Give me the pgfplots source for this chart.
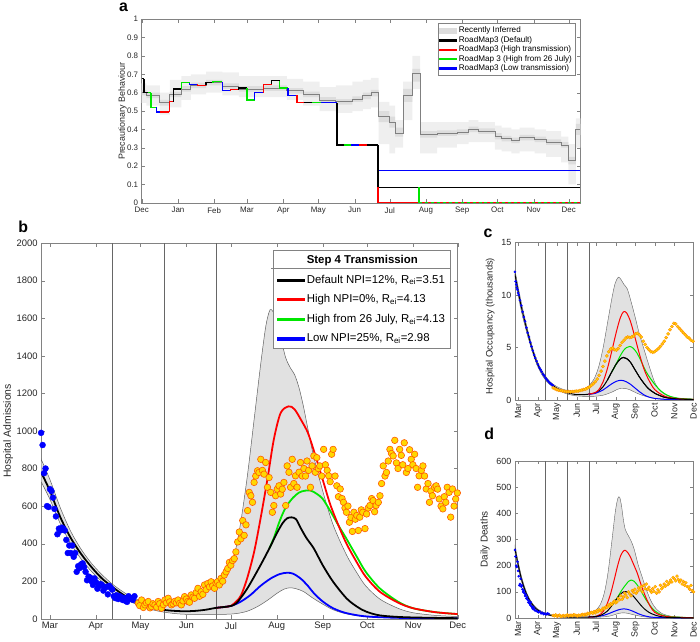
\documentclass[border=0pt]{standalone}
\usepackage{fontspec}
\setmainfont{Liberation Sans}
\setsansfont{Liberation Sans}
\usepackage{pgfplots}
\usepackage{pgfplotstable}
\pgfplotsset{compat=1.18}
\usepgfplotslibrary{fillbetween}

\definecolor{ydot}{RGB}{255,215,0}
\definecolor{odot}{RGB}{255,90,0}
\definecolor{odot2}{RGB}{255,140,0}
\definecolor{bandb}{RGB}{225,225,225}
\definecolor{bandout}{RGB}{239,239,239}
\definecolor{bandin}{RGB}{221,221,221}
\definecolor{axgray}{RGB}{130,130,130}
\definecolor{mgreen}{RGB}{0,230,0}
\definecolor{mred}{RGB}{255,0,0}

\pgfplotsset{
  panel/.style={scale only axis, anchor=south west,
    axis line style={axgray}, tick style={axgray}, tick align=inside,
    major tick length=3.5pt,
    tick label style={font=\fontsize{9}{10}\selectfont, text=black!85},
    /pgf/number format/assume math mode=true,
    /pgf/number format/1000 sep={},
    label style={font=\fontsize{10}{12}\selectfont, text=black!85}},
  orangedots/.style n args={3}{only marks, mark=*, mark size=#1,
    mark options={fill=ydot, draw=#3, line width=#2}},
  legline/.style n args={3}{legend image code/.code={\fill[#1] (0pt,-#2) rectangle (#3,#2);}},
}

% panel a: inferred precautionary behaviour (days from 1 Dec 2020)
\pgfplotstableread{
x mid il ih ol oh
0 .600 .585 .615 .545 .650
4 .585 .570 .600 .530 .640
15.5 .545 .530 .560 .480 .600
24 .590 .575 .605 .520 .670
34 .620 .605 .635 .560 .690
42 .640 .625 .655 .590 .700
55 .655 .640 .670 .600 .715
69 .635 .620 .650 .585 .710
83 .620 .605 .635 .575 .690
104 .625 .610 .640 .575 .690
124 .610 .595 .625 .560 .675
138 .590 .575 .605 .530 .660
152 .560 .545 .575 .500 .630
166 .550 .535 .565 .490 .640
180 .565 .550 .580 .500 .660
189 .585 .565 .600 .510 .670
196 .600 .580 .615 .520 .680
202.6 .470 .440 .500 .320 .550
211.7 .440 .410 .470 .270 .530
216.7 .380 .360 .410 .300 .450
223.5 .585 .550 .620 .450 .660
231.4 .705 .660 .730 .620 .800
237.9 .370 .355 .390 .270 .440
252.6 .380 .365 .395 .300 .440
269.5 .385 .370 .400 .320 .440
279.4 .400 .385 .415 .330 .450
287.8 .390 .375 .405 .330 .440
301.9 .360 .345 .380 .290 .420
307.6 .350 .335 .365 .280 .410
316 .340 .325 .355 .270 .400
323.1 .355 .340 .370 .280 .410
335.8 .345 .330 .360 .270 .400
345.7 .330 .315 .345 .250 .390
358.4 .315 .300 .330 .220 .360
364.6 .230 .210 .250 .100 .320
371.1 .400 .370 .430 .300 .460
375 .400 .370 .430 .300 .460
}\tabA

\newcommand{\seg}[5]{\addplot[#1, line width=1.2pt, forget plot] coordinates {(#2,#3) (#2,#4) (#5,#4)};}

\begin{document}
\begin{tikzpicture}
\path (0pt,0pt) rectangle (700pt,643pt);

% ---------------- a ----------------
\begin{axis}[panel, at={(140pt,441.3pt)}, width=442pt, height=185pt,
  xmin=0, xmax=375, ymin=0, ymax=1,
  xtick={0,31,62,90,121,151,182,212,243,274,304,335,365},
  xticklabels={Dec,Jan,Feb,Mar,Apr,May,Jun,Jul,Aug,Sep,Oct,Nov,Dec},
  xticklabel style={yshift=-1pt},
  ytick={0,0.1,...,1.01},
  tick label style={font=\fontsize{8}{9}\selectfont},
  ylabel={Precautionary Behaviour},
  ylabel style={at={(axis description cs:-0.0437,0.5)}, anchor=center, font=\fontsize{9}{10}\selectfont},
  legend style={at={(0.989,0.977)}, anchor=north east, font=\fontsize{8.2}{9}\selectfont,
    draw=axgray, row sep=-2pt, inner sep=1.5pt},
  legend cell align=left]
\addplot[name path=aoh, const plot, draw=none, forget plot] table[x=x,y=oh]{\tabA};
\addplot[name path=aol, const plot, draw=none, forget plot] table[x=x,y=ol]{\tabA};
\addplot[bandout, forget plot] fill between[of=aoh and aol];
\addplot[name path=aih, const plot, draw=none, forget plot] table[x=x,y=ih]{\tabA};
\addplot[name path=ail, const plot, draw=none, forget plot] table[x=x,y=il]{\tabA};
\addplot[bandin, forget plot] fill between[of=aih and ail];
\addplot[const plot, gray, line width=0.8pt, forget plot] table[x=x,y=mid]{\tabA};
\seg{black}{0}{.675}{.675}{2}
\seg{black}{2}{.675}{.600}{5}
\seg{mgreen}{5}{.600}{.600}{8}
\seg{mgreen}{8}{.600}{.520}{13}
\seg{blue}{13}{.520}{.495}{15.5}
\seg{mred}{15.5}{.495}{.495}{23.5}
\seg{mred}{23.5}{.495}{.550}{27}
\seg{black}{27}{.550}{.620}{34}
\seg{mgreen}{34}{.620}{.655}{41}
\seg{blue}{41}{.655}{.645}{48}
\seg{mred}{48}{.645}{.640}{55}
\seg{black}{55}{.640}{.655}{61}
\seg{mgreen}{61}{.655}{.660}{69}
\seg{blue}{69}{.660}{.610}{76}
\seg{mred}{76}{.610}{.615}{83}
\seg{black}{83}{.615}{.625}{90}
\seg{mgreen}{90}{.625}{.560}{96.5}
\seg{blue}{96.5}{.560}{.600}{104}
\seg{mred}{104}{.600}{.645}{111}
\seg{black}{111}{.645}{.665}{118}
\seg{mgreen}{118}{.665}{.625}{125}
\seg{blue}{125}{.625}{.585}{132.7}
\seg{mred}{132.7}{.585}{.545}{139}
\seg{black}{139}{.545}{.545}{146}
\seg{mgreen}{146}{.545}{.545}{153}
\seg{blue}{153}{.545}{.545}{167}
\seg{black}{167}{.545}{.315}{173}
\seg{mgreen}{173}{.315}{.315}{179}
\seg{blue}{179}{.315}{.315}{186}
\seg{mred}{186}{.315}{.315}{193}
\seg{black}{193}{.315}{.315}{202}
\seg{blue}{202}{.175}{.175}{375}
\seg{black}{202}{.315}{.085}{375}
\seg{mred}{202}{.085}{0}{375}
\addplot[mgreen, line width=1.2pt, forget plot] coordinates {(237,.085) (237,0)};
\addplot[mgreen, line width=1.2pt, dash pattern=on 3pt off 3pt, forget plot] coordinates {(237,0) (375,0)};
\addlegendimage{area legend, fill=bandin, draw=bandin}
\addlegendentry{Recently Inferred}
\addlegendimage{legline={black}{0.7pt}{17pt}}
\addlegendentry{RoadMap3 (Default)}
\addlegendimage{legline={mred}{0.7pt}{17pt}}
\addlegendentry{RoadMap3 (High transmission)}
\addlegendimage{legline={mgreen}{0.7pt}{17pt}}
\addlegendentry{RoadMap 3 (High from 26 July)}
\addlegendimage{legline={blue}{0.7pt}{17pt}}
\addlegendentry{RoadMap3 (Low transmission)}
\end{axis}

% ---------------- b ----------------
\begin{axis}[panel, at={(38.7pt,22.3pt)}, width=419.6pt, height=378.4pt,
  xmin=-6, xmax=275, ymin=0, ymax=2000,
  xtick={0,31,61,92,122,153,184,214,245,275},
  xticklabels={Mar,Apr,May,Jun,Jul,Aug,Sep,Oct,Nov,Dec},
  ytick={0,200,...,2000},
  tick label style={font=\fontsize{9.5}{11}\selectfont},
  ylabel={Hospital Admissions},
  ylabel style={at={(axis description cs:-0.0791,0.5)}, anchor=center, font=\fontsize{10.5}{12}\selectfont},
  legend style={at={(0.982,0.9815)}, anchor=north east, font=\fontsize{11.5}{13}\selectfont,
    draw=axgray, fill=white, row sep=6pt, inner sep=3pt},
  legend cell align=left]
\addplot[name path=bu, draw=none, smooth, forget plot] coordinates {
(-6,850) (0,740) (7,590) (14,465) (21,370) (28,295) (35,235) (42,185) (49,145) (56,112)
(63,90) (70,78) (77,72) (84,75) (91,88) (98,110) (105,145) (112,195) (118,245) (122,290)
(125,360) (128.8,520) (133.3,770) (137.7,1061) (142.2,1360) (145.5,1554) (147.8,1633)
(149.3,1646) (152.2,1607) (155.6,1500) (159,1390) (162.3,1334) (165,1300) (168,1230)
(171,1130) (174,1010) (178,860) (184,680) (191,500) (200,340) (207,245) (213,175)
(222.5,105) (235,55) (245,32) (260,18) (275,12)};
\addplot[name path=bl, draw=none, smooth, forget plot] coordinates {
(-6,730) (0,635) (7,505) (14,400) (21,318) (28,252) (35,198) (42,152) (49,115) (56,85)
(63,62) (70,46) (77,35) (84,28) (91,24) (105,22) (119,24) (126,28) (133,40) (140,65)
(147,100) (153,135) (158,158) (162,165) (166,160) (171,145) (177,112) (184,78) (191,48)
(200,26) (213,11) (235,4) (275,1)};
\addplot[fill=bandb, draw=gray!75!black, line width=0.5pt, forget plot] fill between[of=bu and bl];
\addplot[gray!80!black, line width=0.6pt, forget plot] coordinates {(42,0) (42,2000)};
\addplot[gray!80!black, line width=0.6pt, forget plot] coordinates {(77,0) (77,2000)};
\addplot[gray!80!black, line width=0.6pt, forget plot] coordinates {(112,0) (112,2000)};
\addplot[only marks, mark=*, mark size=3pt, color=blue, forget plot] coordinates {
(-6,990) (-5,925) (-4,775) (-3,800) (-2,600) (-1,595) (0,690) (1,680) (2,645) (3,585)
(4,545) (5,450) (6,480) (7,470) (8,485) (9,480) (10,470) (11,420) (12,350) (13,390)
(14,350) (15,390) (16,330) (17,350) (18,250) (19,280) (20,270) (21,290) (22,295) (23,275)
(24,250) (25,205) (26,225) (27,220) (28,200) (29,180) (30,215) (31,195) (32,160) (33,175)
(34,185) (35,180) (36,150) (37,165) (38,170) (39,130) (40,175) (41,165) (42,155) (43,120)
(44,110) (45,125) (46,105) (47,120) (48,115) (49,100) (50,110) (51,95) (52,90) (53,120)
(54,105) (55,110) (56,100) (57,120)};
\addplot[orangedots={3.3pt}{0.6pt}{odot}, forget plot] coordinates {
(59.6,83) (60.5,70) (61.8,100) (63,60) (64,74) (65,85) (66.3,92) (67.5,58) (68.5,65)
(69.5,80) (70.8,74) (72,62) (73,92) (74,80) (75.2,56) (76.5,75) (77.5,100) (78.5,85)
(79.7,109) (80.8,90) (81.9,74) (83,80) (84,92) (85.2,85) (86.4,100) (87.5,82) (88.6,74)
(89.7,95) (90.8,118) (92,105) (93,92) (94.1,88) (95.3,127) (96.4,115) (97.5,109) (98.6,140)
(99.8,162) (100.9,120) (102,144) (103.1,130) (104.2,180) (105.3,155) (106.5,188) (107.6,170)
(108.7,197) (109.8,175) (111,162) (112,190) (113,197) (114.2,180) (115.4,215) (116.5,200)
(117.6,233) (118.8,250) (119.9,268) (121,300) (122,285) (123.2,310) (124.3,320) (125.4,356)
(126.6,409) (127.7,462) (128.8,426) (130,523) (131,444) (132.2,500) (133.3,576) (134.4,673)
(135.5,655) (136.6,620) (137.7,726) (138.8,760) (140,788) (141,779) (142.2,849) (143.3,790)
(144.4,770) (145.5,832) (146.7,700) (147.8,752) (148.9,673) (150,567) (151,603) (152.2,655)
(153.3,690) (154.5,708) (155.6,664) (156.7,690) (157.8,726) (159,603) (160,814) (161.2,780)
(162.3,700) (163.4,849) (164.5,720) (165.6,761) (166.7,700) (168,780) (169,832) (170.2,760)
(171.3,800) (172.4,760) (173.4,840) (174.5,790) (175.7,700) (176.8,814) (178,867) (179,780)
(180,858) (181,800) (182,814) (183.3,760) (184.6,902) (185.8,820) (187,790) (188,761)
(189,730) (190,876) (191,902) (192.3,760) (193.5,708) (194.6,650) (195.8,691) (197,640)
(198,620) (199,590) (200,567) (201,600) (202,514) (203,540) (204,465) (205,567) (206,530)
(207,550) (208,470) (209,541) (210,580) (211,567) (212.5,480) (213.6,558) (214.7,590)
(215.8,603) (217,640) (218,629) (219,570) (220,603) (221.5,620) (222.6,655) (223.7,720)
(224.8,814) (226,760) (227,779) (228.2,840) (229.3,902) (230.4,880) (231.5,867) (232.6,950)
(233.7,830) (234.8,800) (235.9,902) (237,870) (238,820) (239,937) (240.4,779) (241.5,800)
(242.6,900) (243.7,849) (244.8,820) (246,876) (247,800) (248,700) (249,761) (250.5,790)
(251.6,814) (252.7,760) (253.8,691) (255,720) (256,620) (257,680) (258,655) (259.4,700)
(260.5,708) (261.5,690) (262.6,638) (263.8,600) (265,585) (266,650) (267,620) (268,700)
(269.2,673) (270.3,541) (271.5,691) (272.6,600) (273.7,638) (274.8,670)};
\addplot[blue, line width=1.8pt, smooth, forget plot] coordinates {
(112,58) (119,64) (122,68) (128,88) (135,125) (142,175) (149,215) (155,238) (160,245)
(164,240) (169,215) (174,175) (178,136) (184,92) (191,56) (200,30) (214,12) (240,4) (275,2)};
\addplot[mgreen, line width=1.8pt, smooth, forget plot] coordinates {
(148,375) (151,430) (154,500) (157,560) (160,605) (164,645) (168,672) (172,682) (176,682)
(180,665) (184,638) (189,575) (194.6,497) (200,426) (207,330) (213,250) (222.5,162)
(235,90) (245,56) (260,35) (275,25)};
\addplot[mred, line width=1.8pt, smooth, forget plot] coordinates {
(112,58) (119,64) (122,68) (126,95) (129,127) (133,215) (137.7,356) (142,532) (146.7,744)
(151,955) (155.6,1096) (161,1131) (165,1115) (170,1050) (174,990) (178,895) (184,740)
(189,610) (194.6,497) (200,400) (207,300) (213,224) (222.5,144) (235,85) (245,56) (260,35) (275,25)};
\addplot[black, line width=1.8pt, smooth, forget plot] coordinates {
(-6,780) (0,680) (7,540) (14,430) (21,345) (28,275) (35,215) (42,170) (49,130) (56,98)
(63,75) (70,58) (77,47) (84,42) (91,40) (98,42) (105,48) (112,58) (119,64) (122,68)
(126,85) (133,160) (142,285) (148,375) (153,455) (157,510) (160,535) (163,540) (166,530)
(169,485) (173,430) (178,374) (184,285) (191,197) (200,109) (207,65) (213,39) (222.5,18)
(240,8) (275,3)};
\addlegendimage{empty legend}
\addlegendentry{\textbf{Step 4 Transmission}}
\addlegendimage{legline={black}{1.1pt}{28pt}}
\addlegendentry{Default NPI=12\%, R\textsubscript{ei}=3.51}
\addlegendimage{legline={mred}{1.1pt}{28pt}}
\addlegendentry{High NPI=0\%, R\textsubscript{ei}=4.13}
\addlegendimage{legline={mgreen}{1.1pt}{28pt}}
\addlegendentry{High from 26 July, R\textsubscript{ei}=4.13}
\addlegendimage{legline={blue}{1.1pt}{28pt}}
\addlegendentry{Low NPI=25\%, R\textsubscript{ei}=2.98}
\end{axis}
\draw[axgray, line width=0.5pt] (270.7pt,375.3pt) -- (450.7pt,375.3pt);

% ---------------- c ----------------
\begin{axis}[panel, at={(516pt,242.7pt)}, width=180pt, height=158.6pt,
  xmin=-5, xmax=275, ymin=0, ymax=15,
  xtick={0,31,61,92,122,153,184,214,245,275},
  xticklabels={Mar,Apr,May,Jun,Jul,Aug,Sep,Oct,Nov,Dec},
  xticklabel style={rotate=90, anchor=east},
  ytick={0,5,10,15},
  tick label style={font=\fontsize{9}{10}\selectfont},
  ylabel={Hospital Occupancy (thousands)},
  ylabel style={at={(axis description cs:-0.139,0.47)}, anchor=center, font=\fontsize{9.5}{11}\selectfont}]
\addplot[name path=cu, draw=none, smooth] coordinates {
(-5,12.4) (0,10.8) (5,9.3) (10,7.95) (15,6.7) (20,5.55) (25,4.55) (30,3.7) (35,3.05) (40,2.55)
(45,2.1) (50,1.75) (55,1.5) (60,1.3) (70,1.02) (80,0.88) (90,0.85) (100,0.95) (110,1.3)
(119,2.0) (126,3.1) (133,4.9) (140,7.3) (147,9.7) (152,11.1) (157,11.7) (161,11.5) (166,11.0)
(171,10.6) (176,9.6) (183,8.0) (190,6.3) (197,4.9) (204,3.5) (214,1.7) (224,0.8) (235,0.4)
(250,0.18) (275,0.08)};
\addplot[name path=cl, draw=none, smooth] coordinates {
(-5,11.6) (0,10.0) (5,8.5) (10,7.25) (15,6.1) (20,5.05) (25,4.1) (30,3.3) (35,2.65) (40,2.15)
(45,1.75) (50,1.45) (55,1.2) (60,1.0) (70,0.72) (80,0.52) (90,0.4) (105,0.34) (119,0.35)
(133,0.45) (147,0.75) (155,1.0) (162,1.12) (168,1.1) (176,0.95) (186,0.65) (197,0.4)
(214,0.15) (240,0.04) (275,0.01)};
\addplot[fill=bandb, draw=gray!75!black, line width=0.4pt] fill between[of=cu and cl];
\addplot[gray!80!black, line width=0.6pt] coordinates {(42,0) (42,15)};
\addplot[gray!80!black, line width=0.6pt] coordinates {(77,0) (77,15)};
\addplot[gray!80!black, line width=0.6pt] coordinates {(112,0) (112,15)};
\addplot[black, line width=1pt, smooth] coordinates {
(-5,12.0) (0,10.4) (5,8.9) (10,7.6) (15,6.4) (20,5.3) (25,4.3) (30,3.5) (35,2.85) (40,2.35)
(45,1.95) (50,1.6) (55,1.35) (60,1.15) (70,0.85) (80,0.65) (90,0.52) (100,0.5) (110,0.55)
(119,0.65) (126,0.85) (133,1.25) (140,1.9) (147,2.7) (154,3.45) (160,3.9) (165,4.05)
(170,3.95) (176,3.6) (183,2.9) (190,2.2) (197,1.6) (204,1.1) (214,0.65) (230,0.25)
(250,0.1) (275,0.04)};
\addplot[only marks, mark=*, mark size=1.1pt, color=blue] coordinates {
(-5,12.2) (-4,11.3) (-3,11.0) (-2,10.7) (-1,10.5) (0,10.2) (1,10.0) (3,9.5) (5,9.0) (7,8.4)
(9,7.9) (11,7.5) (13,6.9) (15,6.4) (17,6.0) (19,5.5) (21,5.1) (23,4.7) (25,4.3) (27,4.0)
(29,3.7) (31,3.4) (33,3.1) (35,2.9) (37,2.7) (39,2.45) (41,2.3) (43,2.1) (45,1.95) (47,1.8)
(49,1.65) (51,1.55) (53,1.45) (55,1.35)};
\addplot[orangedots={1.6pt}{0.4pt}{odot2}] coordinates {
(55,1.15) (58,1.05) (61,0.98) (64,0.92) (67,0.9) (70,0.85) (73,0.82) (76,0.8) (79,0.8)
(82,0.78) (85,0.8) (88,0.8) (91,0.85) (94,0.85) (97,0.9) (100,0.95) (103,1.0) (106,1.05)
(109,1.15) (112,1.25) (115,1.4) (118,1.55) (121,1.75) (124,2.0) (127,2.35) (130,2.75)
(133,3.2) (136,3.7) (139,4.2) (142,4.6) (145,4.85) (148,4.95) (151,4.8) (154,4.75) (157,4.9)
(160,5.2) (163,5.5) (166,5.7) (169,5.9) (172,6.0) (175,5.95) (178,6.0) (181,6.1) (184,6.3)
(187,6.35) (190,6.2) (193,6.0) (196,5.6) (199,5.3) (202,5.0) (205,4.8) (208,4.6) (211,4.55)
(214,4.6) (217,4.75) (220,4.9) (223,5.1) (226,5.35) (229,5.6) (232,5.95) (235,6.3) (238,6.7)
(241,7.0) (244,7.3) (247,7.25) (250,7.0) (253,6.8) (256,6.6) (259,6.4) (262,6.2) (265,6.0)
(268,5.9) (271,5.7) (274,5.6)};
\addplot[blue, line width=1pt, smooth] coordinates {
(110,0.55) (119,0.6) (126,0.75) (133,0.95) (140,1.25) (147,1.55) (154,1.78) (160,1.87)
(165,1.85) (170,1.72) (176,1.5) (183,1.15) (190,0.8) (197,0.5) (204,0.3) (214,0.15)
(235,0.05) (275,0.02)};
\addplot[mgreen, line width=1pt, smooth] coordinates {
(147,2.7) (150,3.0) (155,3.6) (160,4.2) (165,4.7) (170,5.0) (175,5.1) (180,4.95) (186,4.5)
(192,3.8) (198,3.0) (204,2.35) (214,1.5) (224,0.85) (235,0.42) (250,0.17) (275,0.06)};
\addplot[mred, line width=1pt, smooth] coordinates {
(110,0.55) (119,0.66) (126,0.95) (133,1.7) (140,3.0) (147,4.7) (154,6.5) (160,7.8) (165,8.4)
(170,8.3) (176,7.5) (183,6.0) (190,4.4) (197,3.0) (204,2.0) (214,1.0) (230,0.35) (250,0.12)
(275,0.05)};
\addplot[black, line width=1pt, smooth] coordinates {
(140,1.9) (147,2.7) (154,3.45) (160,3.9) (165,4.05) (170,3.95) (176,3.6) (183,2.9) (190,2.2)
(197,1.6) (204,1.1) (214,0.65) (230,0.25) (250,0.1) (275,0.04)};
\end{axis}

% ---------------- d ----------------
\begin{axis}[panel, at={(516pt,23pt)}, width=180pt, height=158.3pt,
  xmin=-5, xmax=275, ymin=0, ymax=600,
  xtick={0,31,61,92,122,153,184,214,245,275},
  xticklabels={Mar,Apr,May,Jun,Jul,Aug,Sep,Oct,Nov,Dec},
  xticklabel style={rotate=90, anchor=east},
  ytick={0,100,...,600},
  tick label style={font=\fontsize{9}{10}\selectfont},
  ylabel={Daily Deaths},
  ylabel style={at={(axis description cs:-0.167,0.5)}, anchor=center, font=\fontsize{10}{12}\selectfont}]
\addplot[name path=du, draw=none, smooth] coordinates {
(-5,280) (0,216) (5,162) (10,120) (15,88) (20,65) (25,48) (30,36) (40,21) (50,14) (60,10)
(70,8) (80,7.5) (90,8.5) (100,11) (110,16) (120,27) (128,48) (135,95) (141,175) (147,295)
(152,400) (156,455) (159,462) (162,430) (165,375) (168,338) (172,318) (177,295) (182,262)
(188,205) (194,160) (200,115) (207,72) (214,42) (225,18) (240,7) (260,3) (275,2)};
\addplot[name path=dl, draw=none, smooth] coordinates {
(-5,250) (0,194) (5,143) (10,105) (15,76) (20,55) (25,40) (30,29) (40,16) (50,9) (60,5.5)
(80,2.8) (100,2.2) (120,2.6) (140,6) (150,12) (158,18) (165,20) (172,18) (182,12) (192,7)
(205,3) (230,1) (275,0.2)};
\addplot[fill=bandb, draw=gray!75!black, line width=0.4pt] fill between[of=du and dl];
\addplot[gray!80!black, line width=0.6pt] coordinates {(42,0) (42,600)};
\addplot[gray!80!black, line width=0.6pt] coordinates {(77,0) (77,600)};
\addplot[gray!80!black, line width=0.6pt] coordinates {(112,0) (112,600)};
\addplot[only marks, mark=*, mark size=1.1pt, color=blue] coordinates {
(-5,260) (-4,235) (-3,200) (-2,195) (-1,215) (0,180) (1,160) (2,125) (3,130) (4,150)
(5,120) (6,125) (7,110) (8,100) (9,105) (10,95) (11,85) (12,90) (13,75) (14,80) (15,70)
(16,60) (17,65) (18,55) (19,50) (20,60) (21,45) (22,40) (23,35) (24,42) (25,35) (26,30)
(28,28) (30,25) (32,22) (34,25) (36,18) (38,20) (40,15) (42,17) (44,14) (46,18) (48,16)};
\addplot[orangedots={1.5pt}{0.4pt}{odot2}] coordinates {
(55,10) (57,8) (59,12) (61,7) (63,9) (65,11) (67,6) (69,8) (71,10) (73,7) (75,9) (77,12)
(79,8) (81,10) (83,11) (85,9) (87,13) (89,12) (91,10) (93,8) (95,11) (97,9) (99,12)
(101,14) (103,11) (105,15) (107,13) (109,18) (111,16) (113,20) (115,22) (117,18) (119,25)
(121,20) (123,28) (125,24) (127,32) (129,28) (131,30) (133,38) (135,35) (137,42) (139,40)
(141,50) (143,45) (145,55) (147,52) (149,60) (151,65) (153,58) (155,62) (157,75) (159,70)
(161,85) (163,72) (165,80) (167,95) (169,88) (171,78) (173,100) (175,92) (177,85) (179,105)
(181,98) (183,110) (185,95) (187,102) (189,115) (191,108) (193,120) (195,100) (197,125)
(199,112) (201,130) (203,110) (205,118) (207,105) (209,98) (211,112) (213,102) (215,120)
(217,95) (219,108) (221,100) (223,125) (225,112) (227,118) (229,130) (231,122) (233,140)
(235,128) (237,135) (239,145) (241,138) (243,155) (245,150) (247,142) (249,160) (251,148)
(253,138) (255,145) (257,130) (259,140) (261,125) (263,135) (265,120) (267,118) (269,110)
(271,125) (273,105) (275,100)};
\addplot[blue, line width=1pt, smooth] coordinates {
(110,4) (120,5) (130,8) (140,15) (150,25) (158,32) (165,35) (172,33) (180,26) (188,17)
(196,10) (205,5) (220,2) (275,0.5)};
\addplot[mgreen, line width=1pt, smooth] coordinates {
(147,48) (150,57) (156,80) (162,105) (168,125) (173,140) (177,145) (182,140) (188,122)
(194,97) (200,72) (207,47) (214,28) (225,12) (240,5) (275,1)};
\addplot[mred, line width=1pt, smooth] coordinates {
(110,4) (120,5.5) (130,16) (137,40) (144,85) (150,140) (156,200) (161,240) (166,258)
(170,255) (175,238) (181,205) (187,170) (193,125) (200,80) (207,45) (214,22) (225,10)
(240,4) (275,1)};
\addplot[black, line width=1pt, smooth] coordinates {
(-5,265) (0,205) (5,152) (10,112) (15,82) (20,60) (25,44) (30,32) (35,24) (40,18) (50,11)
(60,7) (70,5) (80,4) (90,3.5) (100,3.5) (110,4) (120,5.5) (130,11) (140,27) (147,48)
(154,72) (160,90) (165,100) (169,101) (174,96) (180,85) (186,68) (192,50) (198,35)
(205,22) (214,12) (225,5) (240,2) (275,0.5)};
\end{axis}

% panel letters
\node[anchor=base, font=\fontsize{16}{18}\selectfont\bfseries] at (121.7pt,633.7pt) {a};
\node[anchor=base, font=\fontsize{16}{18}\selectfont\bfseries] at (20.7pt,411.3pt) {b};
\node[anchor=base, font=\fontsize{16}{18}\selectfont\bfseries] at (489pt,406.3pt) {c};
\node[anchor=base, font=\fontsize{16}{18}\selectfont\bfseries] at (490pt,203pt) {d};
\end{tikzpicture}
\end{document}
